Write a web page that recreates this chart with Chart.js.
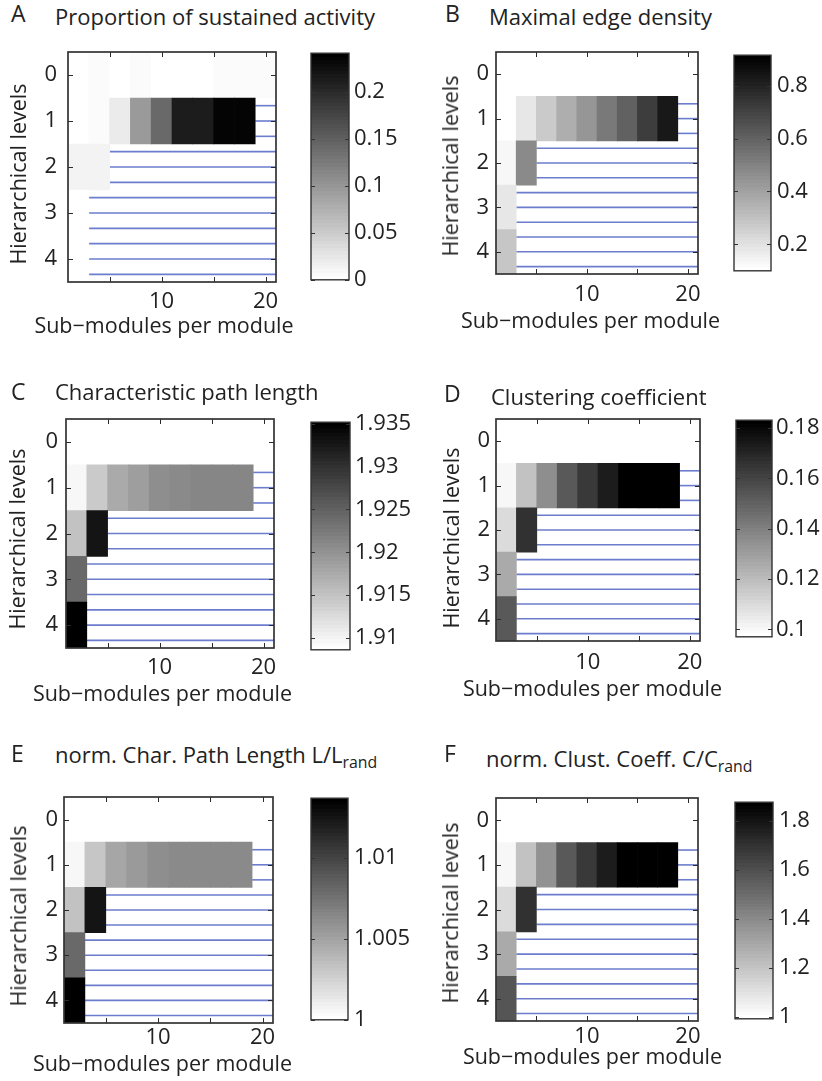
<!DOCTYPE html>
<html>
<head>
<meta charset="utf-8">
<script src="https://cdn.jsdelivr.net/npm/chart.js@4.4.1/dist/chart.umd.min.js"></script>
<style>
html,body{margin:0;padding:0;background:#fff;}
#fig{position:relative;width:822px;height:1081px;overflow:hidden;background:#fff;
  font-family:'Open Sans',Lato,'DejaVu Sans',sans-serif;color:#222;}
#fig canvas{position:absolute;}
.txt{position:absolute;white-space:nowrap;line-height:1.2;}
.txt sub{font-size:0.72em;vertical-align:-0.3em;line-height:0;}
.xt{transform:translateX(-50%);}
.yt{transform:translate(-50%,-50%) rotate(-90deg);}
</style>
</head>
<body>
<div id="fig"></div>
<script>
// ---------------- data ----------------
const subModules = [2, 4, 6, 8, 10, 12, 14, 16, 18, 20];   // columns
const levels = [0, 1, 2, 3, 4];                           // rows (hierarchical levels)
const xRange = [1, 21];
const xTicks = [5, 10, 15, 20];
const xTickLabels = ['', '10', '', '20'];
const xTitle = 'Sub\u2212modules per module';
const yTitle = 'Hierarchical levels';

// A  Proportion of sustained activity
const sustainedActivity = [
  [0.002, 0.006, 0.000, 0.006, 0.000, 0.000, 0.000, 0.006, 0.006, 0.006],
  [0.000, 0.005, 0.022, 0.095, 0.141, 0.214, 0.214, 0.236, 0.236, null],
  [0.012, 0.012, null, null, null, null, null, null, null, null],
  [0.003, null, null, null, null, null, null, null, null, null],
  [0.003, null, null, null, null, null, null, null, null, null]
];
const sustainedRange = [0, 0.241];
const sustainedTicks = [0, 0.05, 0.1, 0.15, 0.2];

// B  Maximal edge density
const edgeDensity = [
  [0.100, 0.100, 0.100, 0.100, 0.100, 0.100, 0.100, 0.100, 0.100, 0.100],
  [0.100, 0.186, 0.273, 0.362, 0.442, 0.525, 0.605, 0.720, 0.832, null],
  [0.126, 0.474, null, null, null, null, null, null, null, null],
  [0.180, null, null, null, null, null, null, null, null, null],
  [0.282, null, null, null, null, null, null, null, null, null]
];
const edgeRange = [0.1, 0.915];
const edgeTicks = [0.2, 0.4, 0.6, 0.8];

// C  Characteristic path length
const pathLength = [
  [1.9087, 1.9087, 1.9087, 1.9087, 1.9087, 1.9087, 1.9087, 1.9087, 1.9087, 1.9087],
  [1.9096, 1.9143, 1.9177, 1.9189, 1.9203, 1.9209, 1.9212, 1.9212, 1.9212, null],
  [1.9152, 1.9330, null, null, null, null, null, null, null, null],
  [1.9241, null, null, null, null, null, null, null, null, null],
  [1.9349, null, null, null, null, null, null, null, null, null]
];
const pathRange = [1.9086, 1.9352];
const pathTicks = [1.91, 1.915, 1.92, 1.925, 1.93, 1.935];

// D  Clustering coefficient
const clustering = [
  [0.097, 0.097, 0.097, 0.097, 0.097, 0.097, 0.097, 0.097, 0.097, 0.097],
  [0.1004, 0.1183, 0.1348, 0.1527, 0.1642, 0.1730, 0.1820, 0.1820, 0.1820, null],
  [0.1102, 0.1659, null, null, null, null, null, null, null, null],
  [0.1254, null, null, null, null, null, null, null, null, null],
  [0.1534, null, null, null, null, null, null, null, null, null]
];
const clusteringRange = [0.097, 0.1831];
const clusteringTicks = [0.1, 0.12, 0.14, 0.16, 0.18];

// E  norm. Char. Path Length L/Lrand
const normPathLength = [
  [1.0000, 1.0000, 1.0000, 1.0000, 1.0000, 1.0000, 1.0000, 1.0000, 1.0000, 1.0000],
  [1.0005, 1.0031, 1.0048, 1.0054, 1.0062, 1.0063, 1.0064, 1.0064, 1.0064, null],
  [1.0034, 1.0126, null, null, null, null, null, null, null, null],
  [1.0081, null, null, null, null, null, null, null, null, null],
  [1.0135, null, null, null, null, null, null, null, null, null]
];
const normPathRange = [1.0, 1.0137];
const normPathTicks = [1, 1.005, 1.01];

// F  norm. Clust. Coeff. C/Crand
const normClustering = [
  [0.993, 0.993, 0.993, 0.993, 0.993, 0.993, 0.993, 0.993, 0.993, 0.993],
  [1.025, 1.208, 1.379, 1.567, 1.681, 1.772, 1.866, 1.866, 1.866, null],
  [1.120, 1.699, null, null, null, null, null, null, null, null],
  [1.290, null, null, null, null, null, null, null, null, null],
  [1.586, null, null, null, null, null, null, null, null, null]
];
const normClusteringRange = [0.993, 1.876];
const normClusteringTicks = [1, 1.2, 1.4, 1.6, 1.8];

const panelLetters = ['A', 'B', 'C', 'D', 'E', 'F'];
const panelTitles = [
  {main: 'Proportion of sustained activity'},
  {main: 'Maximal edge density'},
  {main: 'Characteristic path length'},
  {main: 'Clustering coefficient'},
  {main: 'norm. Char. Path Length L/L', sub: 'rand'},
  {main: 'norm. Clust. Coeff. C/C', sub: 'rand'}
];

// ---------------- layout (pixels) ----------------
const panelLayout = [
  {plot:[68,52,276,282],  cbar:[311,51,349,282],  letter:[11,23],  title:[55,25],  xTitle:[164,333.5],   yTitle:[20,173.5],  yTickPad:11, xTickY:302,  cbPad:5},
  {plot:[496,52,698,274], cbar:[734,52,771,274],  letter:[445,23], title:[489,25], xTitle:[590.5,328.5], yTitle:[452,165.5], yTickPad:7,  xTickY:295,  cbPad:6},
  {plot:[66,419,274,648], cbar:[311,420,350,652], letter:[11,401], title:[55,400], xTitle:[162.5,701.5], yTitle:[19,539],    yTickPad:8,  xTickY:668,  cbPad:5},
  {plot:[496,419,700,641],cbar:[736,419,772,638], letter:[444,403],title:[491,405],xTitle:[592.5,696.5], yTitle:[453,537.5], yTickPad:6,  xTickY:663,  cbPad:4},
  {plot:[64,797,273,1023],cbar:[311,795,348,1023],letter:[11,763], title:[55,763], xTitle:[162.5,1071.5],yTitle:[20,916],    yTickPad:6,  xTickY:1038, cbPad:6},
  {plot:[496,798,698,1021],cbar:[735,799,773,1022],letter:[444,763],title:[486,767],xTitle:[592.5,1064.5],yTitle:[452,913],  yTickPad:7,  xTickY:1037, cbPad:6}
];

const panelData = [
  {values: sustainedActivity, range: sustainedRange, ticks: sustainedTicks},
  {values: edgeDensity, range: edgeRange, ticks: edgeTicks},
  {values: pathLength, range: pathRange, ticks: pathTicks},
  {values: clustering, range: clusteringRange, ticks: clusteringTicks},
  {values: normPathLength, range: normPathRange, ticks: normPathTicks},
  {values: normClustering, range: normClusteringRange, ticks: normClusteringTicks}
];

// ---------------- style ----------------
const FONT = "'Open Sans', Lato, 'DejaVu Sans', sans-serif";
const TEXT = '#222';
const TICK = 22, AX = 21.5, TITLE = 22, LETTER = 23;
const LH = 1.2;
const ASC = 0.988;
const HATCH = 'rgba(72,92,192,0.8)';
const NLEV = 64;

Chart.defaults.font.family = FONT;
Chart.defaults.color = TEXT;

function levelIndex(v, range) {
  let i = Math.floor((v - range[0]) / (range[1] - range[0]) * NLEV);
  return Math.max(0, Math.min(NLEV - 1, i));
}
function grayOf(i) {
  const g = Math.round(255 * (1 - i / (NLEV - 1)));
  return 'rgb(' + g + ',' + g + ',' + g + ')';
}

const fig = document.getElementById('fig');
function addCanvas(x, y, w, h) {
  const c = document.createElement('canvas');
  c.width = w; c.height = h;
  c.style.left = x + 'px'; c.style.top = y + 'px';
  c.style.width = w + 'px'; c.style.height = h + 'px';
  fig.appendChild(c);
  return c;
}
function addText(x, baseline, size, main, sub, cls) {
  const d = document.createElement('div');
  d.className = 'txt' + (cls ? ' ' + cls : '');
  d.style.left = x + 'px';
  d.style.top = (baseline - ASC * size) + 'px';
  d.style.fontSize = size + 'px';
  d.appendChild(document.createTextNode(main));
  if (sub) {
    const s = document.createElement('sub');
    s.textContent = sub;
    d.appendChild(s);
  }
  fig.appendChild(d);
}
function addVText(cx, cy, size, text) {
  const d = document.createElement('div');
  d.className = 'txt yt';
  d.style.left = (cx - 2.5) + 'px';
  d.style.top = cy + 'px';
  d.style.fontSize = size + 'px';
  d.textContent = text;
  fig.appendChild(d);
}

const frameTicks = {
  id: 'frameTicks',
  afterDraw(chart) {
    const {ctx, chartArea: a, scales} = chart;
    ctx.save();
    ctx.strokeStyle = '#2b2b2b';
    ctx.lineWidth = 1;
    const tl = 5;
    ctx.beginPath();
    scales.x.ticks.forEach(t => {
      const px = Math.round(scales.x.getPixelForValue(t.value)) + 0.5;
      ctx.moveTo(px, a.top); ctx.lineTo(px, a.top + tl);
      ctx.moveTo(px, a.bottom); ctx.lineTo(px, a.bottom - tl);
    });
    scales.y.ticks.forEach(t => {
      const py = Math.round(scales.y.getPixelForValue(t.value)) + 0.5;
      ctx.moveTo(a.left, py); ctx.lineTo(a.left + tl, py);
      ctx.moveTo(a.right, py); ctx.lineTo(a.right - tl, py);
    });
    ctx.stroke();
    ctx.lineWidth = 1.7;
    ctx.strokeStyle = '#333';
    ctx.strokeRect(a.left, a.top, a.right - a.left, a.bottom - a.top);
    ctx.restore();
  }
};

const cbFrame = {
  id: 'cbFrame',
  afterDraw(chart) {
    const {ctx, chartArea: a, scales} = chart;
    ctx.save();
    ctx.strokeStyle = '#333';
    ctx.lineWidth = 1;
    ctx.beginPath();
    scales.y.ticks.forEach(t => {
      const py = Math.round(scales.y.getPixelForValue(t.value)) + 0.5;
      ctx.moveTo(a.left, py); ctx.lineTo(a.left + 4, py);
      ctx.moveTo(a.right, py); ctx.lineTo(a.right - 4, py);
    });
    ctx.stroke();
    ctx.lineWidth = 1.4;
    ctx.strokeRect(a.left, a.top, a.right - a.left, a.bottom - a.top);
    ctx.restore();
  }
};

function makeHeatmap(p, L) {
  const [pl, pt, pr, pb] = L.plot;
  const YW = 60, XH = 40, PT = 10, PR = 16;
  const cx = pl - YW, cy = pt - PT;
  const cw = pr + PR - cx, ch = pb + XH - cy;
  const canvas = addCanvas(cx, cy, cw, ch);
  const half = (subModules[1] - subModules[0]) / 2;

  const cells = [], colors = [];
  p.values.forEach((row, li) => row.forEach((v, ci) => {
    if (v === null) return;
    cells.push({y: levels[li], x: [subModules[ci] - half, subModules[ci] + half]});
    colors.push(grayOf(levelIndex(v, p.range)));
  }));

  const hatch = [];
  p.values.forEach((row, li) => {
    const fi = row.indexOf(null);
    if (fi < 0) return;
    const x0 = subModules[fi] - half;
    [-1 / 3, 0, 1 / 3].forEach(o => {
      hatch.push({
        type: 'line',
        data: [{x: x0, y: levels[li] + o}, {x: xRange[1], y: levels[li] + o}],
        borderColor: HATCH, borderWidth: 1.6, pointRadius: 0, pointHoverRadius: 0,
        fill: false, tension: 0
      });
    });
  });

  const tickLH = TICK * LH;
  new Chart(canvas, {
    type: 'bar',
    data: {
      datasets: [{
        type: 'bar', indexAxis: 'y', data: cells, backgroundColor: colors,
        borderWidth: 0, barPercentage: 1, categoryPercentage: 1, grouped: false
      }].concat(hatch)
    },
    options: {
      responsive: false, animation: false, events: [],
      layout: {padding: {left: 0, top: PT, right: PR, bottom: 0}, autoPadding: false},
      plugins: {legend: {display: false}, tooltip: {enabled: false}},
      scales: {
        x: {
          type: 'linear', position: 'bottom', min: xRange[0], max: xRange[1],
          offset: false, beginAtZero: false,
          afterBuildTicks: s => { s.ticks = xTicks.map(v => ({value: v})); },
          afterFit: s => { s.height = XH; s.paddingLeft = 0; s.paddingRight = 0; },
          grid: {display: false, drawTicks: false, offset: false},
          border: {display: false},
          ticks: {autoSkip: false, maxRotation: 0, font: {size: TICK},
                  padding: L.xTickY - pb - tickLH / 2,
                  callback: (v, i) => xTickLabels[i]},
          title: {display: false}
        },
        y: {
          type: 'linear', position: 'left', reverse: true,
          min: levels[0] - 0.5, max: levels[levels.length - 1] + 0.5,
          offset: false, beginAtZero: false,
          afterBuildTicks: s => { s.ticks = levels.map(v => ({value: v})); },
          afterFit: s => { s.width = YW; s.paddingTop = 0; s.paddingBottom = 0; },
          grid: {display: false, drawTicks: false, offset: false},
          border: {display: false},
          ticks: {font: {size: TICK}, padding: L.yTickPad, callback: v => String(v)},
          title: {display: false}
        }
      }
    },
    plugins: [frameTicks]
  });
}

function makeColorbar(p, L) {
  const [bl, bt, br, bb] = L.cbar;
  const PL = 4, PT = 16, PB = 16, YW = 80;
  const cx = bl - PL, cy = bt - PT;
  const cw = (br - bl) + PL + YW, ch = (bb - bt) + PT + PB;
  const canvas = addCanvas(cx, cy, cw, ch);
  new Chart(canvas, {
    type: 'bar',
    data: {
      labels: [''],
      datasets: [{
        data: [[p.range[0], p.range[1]]],
        backgroundColor: c => {
          const a = c.chart.chartArea;
          if (!a) return 'rgba(0,0,0,0)';
          const g = c.chart.ctx.createLinearGradient(0, a.bottom, 0, a.top);
          for (let i = 0; i < NLEV; i++) {
            const col = grayOf(i);
            g.addColorStop(i / NLEV, col);
            g.addColorStop((i + 1) / NLEV, col);
          }
          return g;
        },
        borderWidth: 0, barPercentage: 1, categoryPercentage: 1
      }]
    },
    options: {
      responsive: false, animation: false, events: [],
      layout: {padding: {left: PL, top: PT, right: 0, bottom: PB}, autoPadding: false},
      plugins: {legend: {display: false}, tooltip: {enabled: false}},
      scales: {
        x: {display: false},
        y: {
          type: 'linear', position: 'right', min: p.range[0], max: p.range[1],
          beginAtZero: false,
          afterBuildTicks: s => { s.ticks = p.ticks.map(v => ({value: v})); },
          afterFit: s => { s.width = YW; },
          grid: {display: false, drawTicks: false},
          border: {display: false},
          ticks: {font: {size: TICK}, padding: L.cbPad, callback: v => String(v)}
        }
      }
    },
    plugins: [cbFrame]
  });
}

panelData.forEach((p, i) => {
  const L = panelLayout[i];
  makeHeatmap(p, L);
  makeColorbar(p, L);
  addText(L.letter[0], L.letter[1], LETTER, panelLetters[i]);
  addText(L.title[0], L.title[1], TITLE, panelTitles[i].main, panelTitles[i].sub);
  addText(L.xTitle[0], L.xTitle[1], AX, xTitle, null, 'xt');
  addVText(L.yTitle[0], L.yTitle[1], AX, yTitle);
});
</script>
</body>
</html>
